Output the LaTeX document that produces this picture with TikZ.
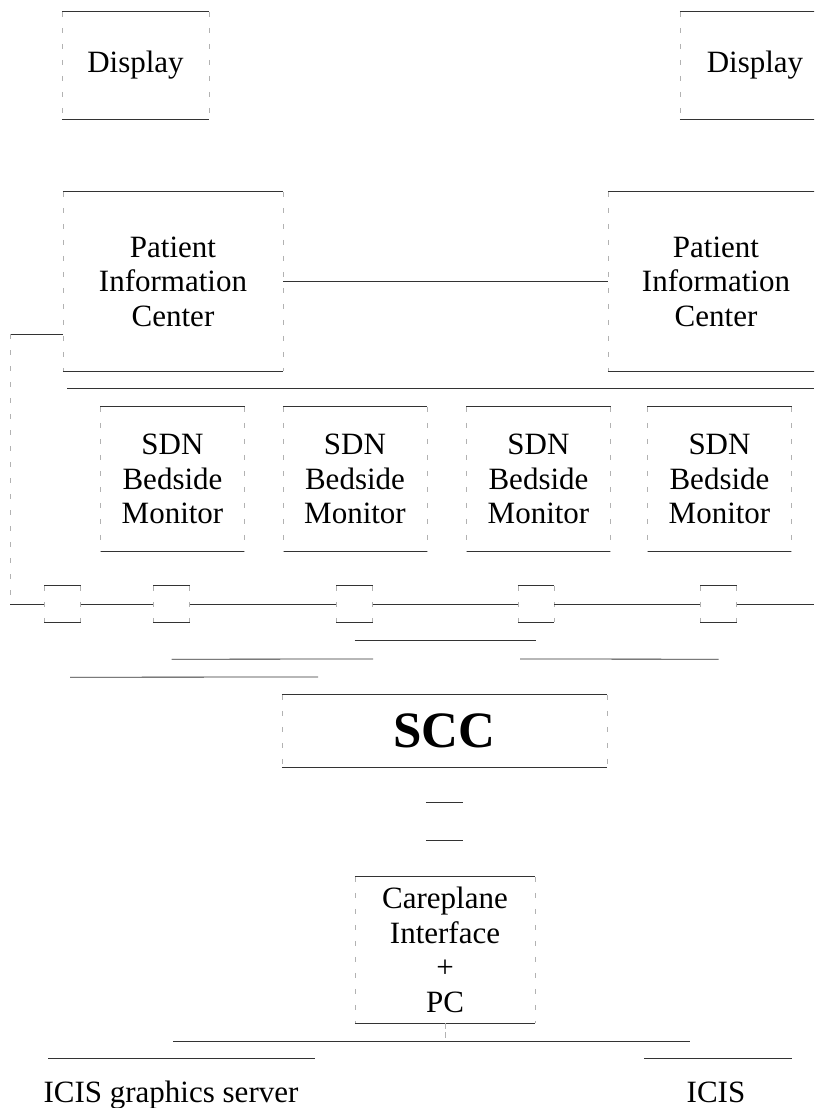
\documentclass[tikz,border=0pt]{standalone}
\usepackage{fontspec}
\setmainfont{Liberation Serif}
\newcommand\bodyfont{\fontsize{31}{34.5}\selectfont}
\newcommand\bigfont{\fontsize{51}{55}\selectfont\bfseries}
% a box: dark top and bottom edges, light broken sides
\newcommand\edgesOfBox[1]{%
  \draw[hedge] (#1.north west) -- (#1.north east) (#1.south west) -- (#1.south east);
  \draw[vedge] (#1.north west) -- (#1.south west) (#1.north east) -- (#1.south east);}
\tikzset{
  hedge/.style={draw=black!80, line width=0.8pt},
  vedge/.style={draw=black!30, line width=0.5pt, dash pattern=on 5pt off 11pt},
  wire/.style={draw=black!80, line width=0.8pt},
  frame/.style={rectangle, inner sep=0pt, align=center, font=\bodyfont},
  tapbox/.style={rectangle, inner sep=0pt, minimum width=36pt, minimum height=36pt},
}
\begin{document}
\begin{tikzpicture}[x=1pt, y=-1pt]
\useasboundingbox (0,0) rectangle (814,1108);
\clip (0,0) rectangle (814,1108);

% displays
\node[frame, minimum width=147pt, minimum height=107pt] (disL) at (135.5,65.5) {Display};
\node[frame, minimum width=150pt, minimum height=107pt] (disR) at (755,65.5) {Display};
\edgesOfBox{disL} \edgesOfBox{disR}

% patient information centers
\node[frame, minimum width=220pt, minimum height=179pt] (picL) at (173,281.5) {Patient\\Information\\Center};
\node[frame, minimum width=216pt, minimum height=179pt] (picR) at (716,281.5) {Patient\\Information\\Center};
\edgesOfBox{picL} \edgesOfBox{picR}
\draw[wire] (picL) -- (picR);

% line under the centers
\coordinate (topL) at (67,388);
\coordinate (topR) at (814,388);
\draw[wire] (topL) -- (topR);

% bedside monitors
\foreach \n/\x in {sdnA/172.5, sdnB/355, sdnC/538.5, sdnD/719.5}{
  \node[frame, minimum width=144pt, minimum height=144pt] (\n) at (\x,479) {SDN\\Bedside\\Monitor};
  \edgesOfBox{\n}
}

% network taps on the bus
\foreach \n/\x in {tapA/62.5, tapB/171.5, tapC/354.5, tapD/536, tapE/718.5}{
  \node[tapbox] (\n) at (\x,604) {};
  \edgesOfBox{\n}
}
\coordinate (busL) at (10,604);
\coordinate (busR) at (814,604);
\coordinate (bend) at (10,334);
\draw[wire] (picL.west |- bend) -- (bend);
\draw[vedge] (bend) -- (busL);
\draw[wire] (busL) -- (tapA.west) (tapA.east) -- (tapB.west) (tapB.east) -- (tapC.west)
  (tapC.east) -- (tapD.west) (tapD.east) -- (tapE.west) (tapE.east) -- (busR);

% SCC
\node[frame, font=\bigfont, minimum width=325pt, minimum height=72pt] (scc) at (444.5,731) {SCC};
\edgesOfBox{scc}

% feeds from the taps towards the SCC
\coordinate (fA) at (318,677);
\coordinate (fB) at (373,659);
\coordinate (fE) at (520,659);
\draw[wire] ([xshift=7.5pt,yshift=-55pt]tapA.south) -- (fA);
\draw[wire] ([yshift=-37pt]tapB.south) -- (fB);
\draw[wire] ([yshift=-18pt]tapC.south) -- ([yshift=-18pt]tapD.south);
\draw[wire] ([yshift=-37pt]tapE.south) -- (fE);

% link between SCC and the careplane interface
\node[tapbox, minimum width=37pt, minimum height=37pt] (lnk) at (444.5,821.5) {};
\draw[hedge] (lnk.north west) -- (lnk.north east) (lnk.south west) -- (lnk.south east);

% careplane interface
\node[frame, minimum width=180pt, minimum height=146pt] (cpi) at (445,950) {Careplane\\Interface\\+\\PC};
\edgesOfBox{cpi}

% ICIS connections
\coordinate (jn) at (445,1041);
\coordinate (jL) at (173,1041);
\coordinate (jR) at (690,1041);
\draw[vedge, dash pattern=on 6pt off 3pt] (cpi.south) -- (jn);
\draw[wire] (jL) -- (jR);

\node[frame, anchor=base] (icisg) at (171,1102) {ICIS graphics server};
\node[frame, anchor=base] (icis) at (716,1102) {ICIS};
\draw[hedge] (48,1058) -- (315,1058);
\draw[hedge] (644,1058) -- (792,1058);
\end{tikzpicture}
\end{document}
